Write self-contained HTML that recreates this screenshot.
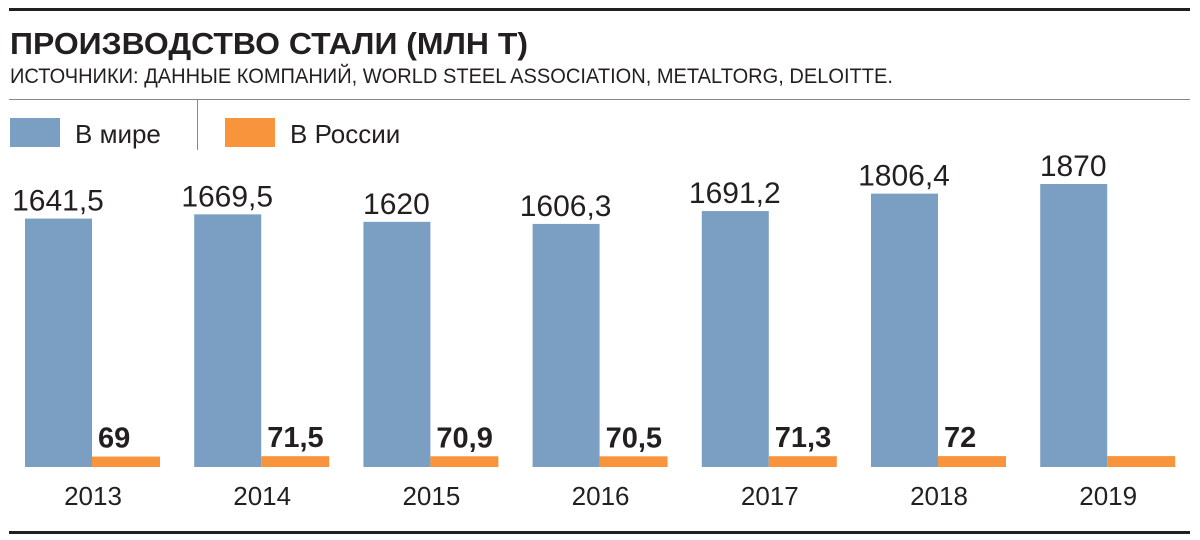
<!DOCTYPE html>
<html><head><meta charset="utf-8"><style>body{margin:0;background:#fff}svg{display:block}</style></head>
<body>
<svg width="1200" height="540" xmlns="http://www.w3.org/2000/svg" font-family="Liberation Sans, DejaVu Sans, sans-serif">
<rect x="9" y="8" width="1181" height="3" fill="#231f20"/>
<text x="10" y="54" font-size="31" font-weight="bold" fill="#231f20" textLength="518" lengthAdjust="spacingAndGlyphs">ПРОИЗВОДСТВО СТАЛИ (МЛН Т)</text>
<text x="10" y="83" font-size="21" fill="#231f20" textLength="883" lengthAdjust="spacingAndGlyphs">ИСТОЧНИКИ: ДАННЫЕ КОМПАНИЙ, WORLD STEEL ASSOCIATION, METALTORG, DELOITTE.</text>
<rect x="9" y="99" width="1181" height="1" fill="#888"/>
<rect x="197" y="100" width="1" height="50" fill="#888"/>
<g><rect x="10" y="118" width="50" height="29" fill="#7b9fc2"/><text x="75" y="143" font-size="26" fill="#231f20">В мире</text></g>
<g><rect x="225" y="118" width="50" height="29" fill="#f7943c"/><text x="290" y="143" font-size="26" fill="#231f20">В России</text></g>
<g id="plot"></g>
<rect x="9" y="531" width="1181" height="3" fill="#231f20"/>
</svg>
<script>
const years = ["2013","2014","2015","2016","2017","2018","2019"];
const world = [1641.5,1669.5,1620,1606.3,1691.2,1806.4,1870];
const russia = [69,71.5,70.9,70.5,71.3,72,72];
const worldLabels = ["1641,5","1669,5","1620","1606,3","1691,2","1806,4","1870"];
const russiaLabels = ["69","71,5","70,9","70,5","71,3","72",""];
const NS="http://www.w3.org/2000/svg", g=document.getElementById('plot');
const base=467, k=283/1870;
const y=v=>base-v*k, x0=i=>25+i*169.2;
function mk(t,a,txt){const e=document.createElementNS(NS,t);for(const n in a)e.setAttribute(n,a[n]);if(txt!==undefined)e.textContent=txt;g.appendChild(e);return e;}
years.forEach((yr,i)=>{
 const x=x0(i);
 const b=mk('rect',{x:x,y:y(world[i]),width:67,height:world[i]*k,fill:'#7b9fc2'});
 
 
 const r=mk('rect',{x:x+67,y:y(russia[i]),width:68,height:russia[i]*k,fill:'#f7943c'});
 
 
 const wl=mk('text',{x:x+33,y:y(world[i])-8,'font-size':30,'text-anchor':'middle',fill:'#231f20'},worldLabels[i]);
 
 
 if(russiaLabels[i]){const rl=mk('text',{x:x+73,y:y(russia[i])-9,'font-size':29,'font-weight':'bold',fill:'#231f20'},russiaLabels[i]);
 
 }
 const yl=mk('text',{x:x+68,y:505,'font-size':26,'text-anchor':'middle',fill:'#231f20'},yr);
 
 
});
</script>
</body></html>
